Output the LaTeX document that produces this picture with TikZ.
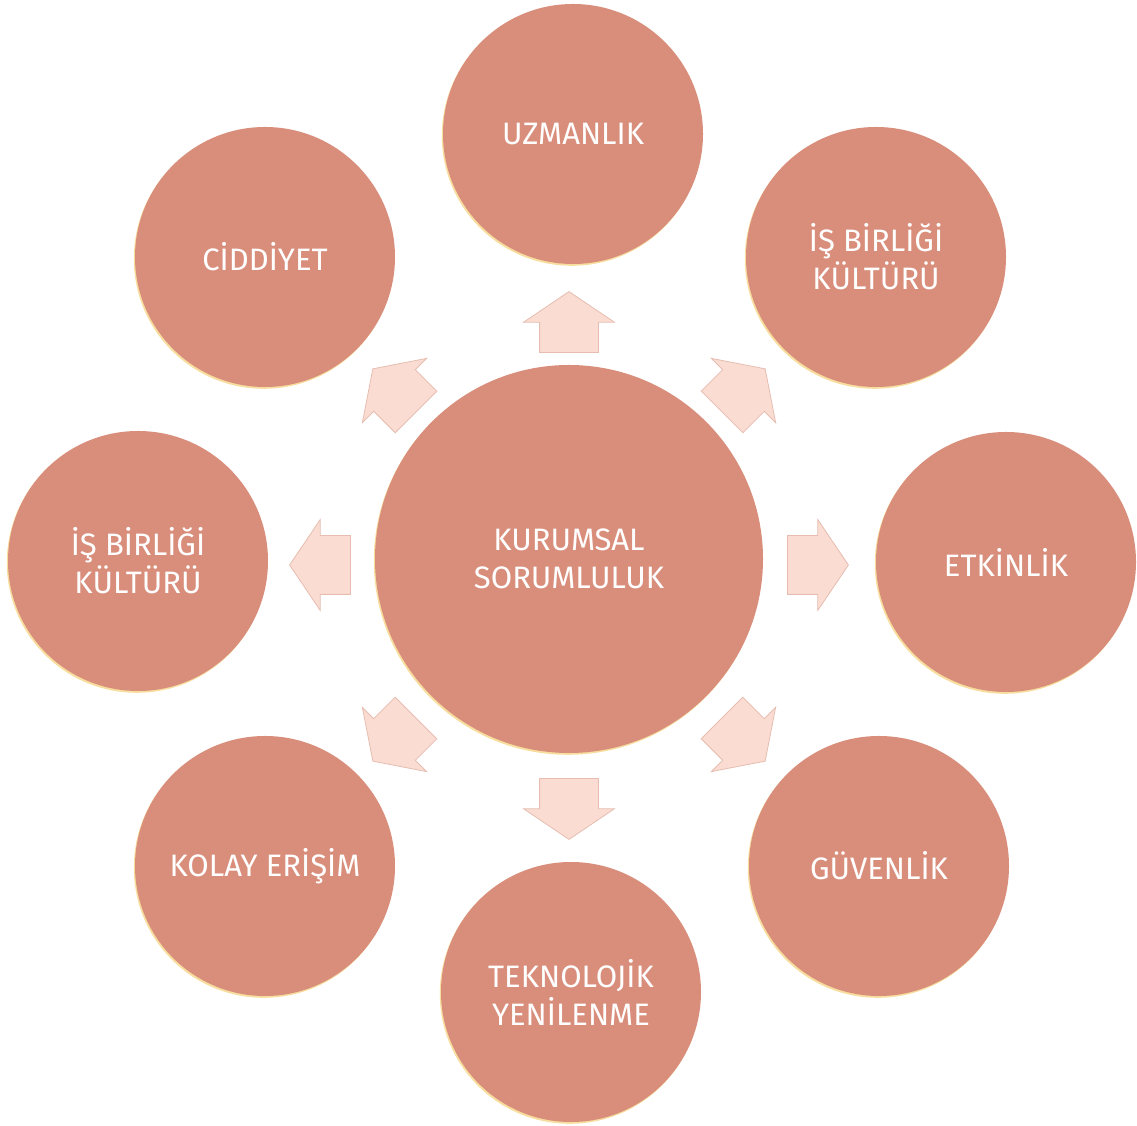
\documentclass[tikz,border=0pt]{standalone}
\usepackage{fontspec}
\setmainfont{Fira Sans}
\usetikzlibrary{shapes.arrows,shadows,calc}
\definecolor{terra}{HTML}{D98E7B}
\definecolor{blush}{HTML}{FADCD2}
\definecolor{blushedge}{HTML}{E6BDB0}
\definecolor{glow}{HTML}{F7DE9E}

\begin{document}
\begin{tikzpicture}%
	[x=1pt, y=1pt,
	disc/.style = {circle, fill=terra, inner sep=0pt, align=center, text=white,
		font=\fontsize{31}{38}\selectfont,
		drop shadow={shadow xshift=-1.2pt, shadow yshift=-1.8pt, fill=glow, opacity=1}},
	hub/.style = {disc, minimum size=388pt},
	item/.style = {disc, minimum size=260pt},
	blockarrow/.style = {single arrow, fill=blush, draw=blushedge, line width=0.8pt,
		minimum height=61pt, minimum width=90pt, inner xsep=0pt, inner ysep=29pt,
		single arrow head extend=16pt, single arrow tip angle=112}]
	\useasboundingbox (0,0) rectangle (1137,1126);
	\node[hub] (hub) at (569,567) {KURUMSAL\\SORUMLULUK};
	\coordinate (mid) at (569,561);
	
	\node[item] (uzm) at (573,992) {UZMANLIK};
	\node[item] (isbR) at (876,869) {İŞ BİRLİĞİ\\KÜLTÜRÜ};
	\node[item] (etk) at (1006,564) {ETKİNLİK};
	\node[item] (guv) at (879,260) {GÜVENLİK};
	\node[item] (tek) at (571,134) {TEKNOLOJİK\\YENİLENME};
	\node[item] (kol) at (265,260) {KOLAY ERİŞİM};
	\node[item] (isbL) at (138,565) {İŞ BİRLİĞİ\\KÜLTÜRÜ};
	\node[item] (cid) at (265,869) {CİDDİYET};
	
	% block arrows pointing out of the hub
	\foreach \ang/\dist [count=\i] in {90/233, 45/237, 0/239, -45/237, -90/234, -135/237, 180/239, 135/237}
		\node[blockarrow, rotate=\ang] (arr\i) at ($(mid)+(\ang:\dist)$) {};
	
\end{tikzpicture}
\end{document}
